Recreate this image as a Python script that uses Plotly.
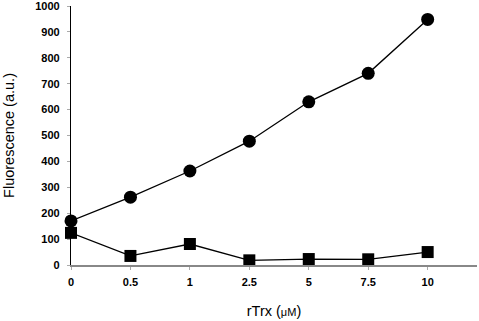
import plotly.graph_objects as go

categories = ["0", "0.5", "1", "2.5", "5", "7.5", "10"]
circles = [170, 262, 363, 478, 630, 740, 948]
squares = [124, 35, 81, 18, 23, 22, 50]

fig = go.Figure()
fig.add_trace(go.Scatter(x=categories, y=circles, mode="lines+markers",
                         line=dict(color="black", width=1.3),
                         marker=dict(symbol="circle", size=13, color="black"),
                         cliponaxis=False, showlegend=False))
fig.add_trace(go.Scatter(x=categories, y=squares, mode="lines+markers",
                         line=dict(color="black", width=1.3),
                         marker=dict(symbol="square", size=12, color="black"),
                         cliponaxis=False, showlegend=False))

fig.update_layout(
    width=479, height=321,
    margin=dict(l=71, r=2, t=6, b=56),
    paper_bgcolor="white", plot_bgcolor="white",
    font=dict(family="Arial, Liberation Sans, sans-serif", color="black"),
)
fig.update_xaxes(type="category", range=[0, 6.83], showgrid=False, zeroline=False,
                 automargin=False,
                 showline=True, linecolor="#888888", linewidth=1.5,
                 ticks="outside", ticklen=3, tickcolor="#aaaaaa",
                 tickfont=dict(size=11, weight="bold"),
                 ticklabelstandoff=3, ticklabeloverflow="allow",
                 title=dict(text="rTrx (<span style='font-size:11px'>μM</span>)", font=dict(size=14.5), standoff=19))
fig.update_yaxes(range=[0, 1000], dtick=100, showgrid=False, zeroline=False,
                 automargin=False,
                 showline=True, linecolor="black", linewidth=1.2,
                 ticks="outside", ticklen=3, tickcolor="#aaaaaa",
                 tickfont=dict(size=11, weight="bold"),
                 ticklabelstandoff=5, ticklabeloverflow="allow",
                 title=dict(text="Fluorescence (a.u.)", font=dict(size=14.5), standoff=17))

fig.write_html("out.html", config={"displayModeBar": False},
               post_script="document.body.style.margin='0';document.body.style.overflow='hidden';")
